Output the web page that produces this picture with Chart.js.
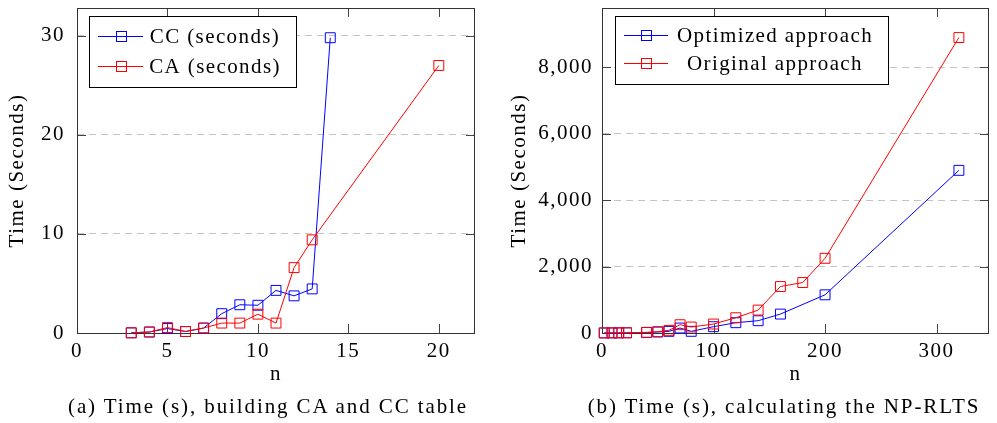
<!DOCTYPE html>
<html><head><meta charset="utf-8">
<script src="https://cdn.jsdelivr.net/npm/chart.js@4"></script>
<style>
body{margin:0;background:#fff;width:997px;height:423px;overflow:hidden;position:relative;font-family:"Liberation Serif",serif;}
canvas{position:absolute;top:0}
.cap{position:absolute;top:394px;line-height:24px;font-size:21px;text-align:center;letter-spacing:1.9px;white-space:nowrap;color:#000}
</style></head><body>
<canvas id="c1" width="497" height="423" style="left:0;width:497px;height:423px"></canvas>
<canvas id="c2" width="497" height="423" style="left:500px;width:497px;height:423px"></canvas>
<div class="cap" style="left:0;width:536px">(a) Time (s), building CA and CC table</div>
<div class="cap" style="left:569px;width:430px">(b) Time (s), calculating the NP-RLTS</div>
<script>
// ---- Left chart data ----
const ccN = [3, 4, 5, 6, 7, 8, 9, 10, 11, 12, 13, 14];
const ccSeconds = [0.02, 0.1, 0.45, 0.15, 0.5, 1.95, 2.85, 2.8, 4.3, 3.75, 4.45, 29.8];
const caN = [3, 4, 5, 6, 7, 8, 9, 10, 11, 12, 13, 20];
const caSeconds = [0.02, 0.1, 0.55, 0.15, 0.5, 1.0, 1.0, 1.9, 1.0, 6.6, 9.4, 27.0];
const leftXTicks = [0, 5, 10, 15, 20];
const leftYTicks = [0, 10, 20, 30];
const leftLabels = ['CC (seconds)', 'CA (seconds)'];

// ---- Right chart data ----
const optN = [2, 9, 15, 22, 40, 50, 60, 70, 80, 100, 120, 140, 160, 200, 320];
const optSeconds = [2, 3, 4, 6, 15, 30, 50, 150, 50, 190, 310, 370, 570, 1150, 4900];
const origN = [2, 9, 15, 22, 40, 50, 60, 70, 80, 100, 120, 140, 160, 180, 200, 320];
const origSeconds = [3, 5, 6, 8, 20, 40, 80, 250, 180, 270, 460, 690, 1400, 1520, 2250, 8900];
const rightXTicks = [0, 100, 200, 300];
const rightYTicks = [0, 2000, 4000, 6000, 8000];
const rightLabels = ['Optimized approach', 'Original approach'];

const FONT = '"Liberation Serif", "Times New Roman", serif';
const BLUE = '#0000ff', RED = '#ff0000';

function pts(xs, ys) { return xs.map((x, i) => ({x: x, y: ys[i]})); }

const framePlugin = {
  id: 'frame',
  beforeDraw(chart) {
    chart.ctx.letterSpacing = '1.5px';
  },
  beforeDatasetsDraw(chart) {
    const {ctx, chartArea: a, scales: {x, y}} = chart;
    ctx.save();
    ctx.strokeStyle = '#444';
    ctx.lineWidth = 1;
    ctx.beginPath();
    x.ticks.forEach(t => {
      const px = Math.round(x.getPixelForValue(t.value)) + 0.5;
      ctx.moveTo(px, a.bottom); ctx.lineTo(px, a.bottom - 9);
      ctx.moveTo(px, a.top); ctx.lineTo(px, a.top + 9);
    });
    y.ticks.forEach(t => {
      const py = Math.round(y.getPixelForValue(t.value)) + 0.5;
      ctx.moveTo(a.left, py); ctx.lineTo(a.left + 9, py);
      ctx.moveTo(a.right, py); ctx.lineTo(a.right - 9, py);
    });
    ctx.stroke();
    ctx.strokeStyle = '#333';
    ctx.strokeRect(Math.round(a.left) + 0.5, Math.round(a.top) + 0.5,
                   Math.round(a.right - a.left) - 1, Math.round(a.bottom - a.top));
    ctx.restore();
  },
  afterDraw(chart, args, o) {
    const L = o.legend;
    if (!L) return;
    const ctx = chart.ctx;
    ctx.save();
    ctx.fillStyle = '#fff';
    ctx.fillRect(L.x, L.y, L.w, L.h);
    ctx.strokeStyle = '#000';
    ctx.lineWidth = 1;
    ctx.strokeRect(L.x + 0.5, L.y + 0.5, L.w, L.h);
    ctx.font = '21px ' + FONT;
    ctx.letterSpacing = '1.4px';
    ctx.textBaseline = 'middle';
    ctx.textAlign = 'center';
    L.rows.forEach((ry, i) => {
      const ds = chart.data.datasets[i];
      ctx.strokeStyle = ds.borderColor;
      ctx.beginPath();
      ctx.moveTo(L.lx1, ry + 0.5); ctx.lineTo(L.lx2, ry + 0.5);
      ctx.stroke();
      const mx = Math.round((L.lx1 + L.lx2) / 2);
      ctx.strokeRect(mx - 5 + 0.5, ry - 5 + 0.5, 10, 10);
      ctx.fillStyle = '#000';
      ctx.fillText(ds.label, L.cx, ry + 1);
    });
    ctx.restore();
  }
};

function zeroPad(s) { s.paddingTop = 0; s.paddingBottom = 0; s.paddingLeft = 0; s.paddingRight = 0; }

function makeChart(id, cfg) {
  const tickFont = {family: FONT, size: 21};
  return new Chart(document.getElementById(id), {
    type: 'line',
    data: {
      datasets: [
        {label: cfg.labels[0], data: cfg.d0, borderColor: BLUE, order: 1},
        {label: cfg.labels[1], data: cfg.d1, borderColor: RED, order: 0}
      ].map(d => Object.assign(d, {
        borderWidth: 1, tension: 0, fill: false, clip: false,
        pointStyle: 'rect', pointRadius: 7, pointHoverRadius: 7,
        pointBorderWidth: 1, pointBackgroundColor: 'rgba(0,0,0,0)',
        pointBorderColor: d.borderColor
      }))
    },
    options: {
      responsive: false, animation: false, devicePixelRatio: 1,
      layout: {padding: {top: 5, right: cfg.padRight, left: 0, bottom: 0}},
      plugins: {legend: {display: false}, tooltip: {enabled: false}, frame: {legend: cfg.legend}},
      scales: {
        x: {
          type: 'linear', min: cfg.xMin, max: cfg.xMax,
          afterBuildTicks: s => { s.ticks = cfg.xTicks.map(v => ({value: v})); },
          afterFit: s => { s.height = 90; zeroPad(s); },
          grid: {display: false, drawTicks: false},
          border: {display: false},
          ticks: {font: tickFont, color: '#000', padding: 6, maxRotation: 0, includeBounds: false,
                  callback: v => v.toLocaleString('en-US')},
          title: {display: true, text: 'n', font: tickFont, color: '#000', padding: {top: 0, bottom: 36}}
        },
        y: {
          type: 'linear', min: cfg.yMin, max: cfg.yMax,
          afterBuildTicks: s => { s.ticks = cfg.yTicks.map(v => ({value: v})); },
          afterFit: s => { s.width = cfg.yWidth; zeroPad(s); },
          grid: {color: '#c4c4c4', drawTicks: false, lineWidth: 1},
          border: {display: false, dash: [7, 5]},
          ticks: {font: tickFont, color: '#000', padding: cfg.yPad, includeBounds: false,
                  callback: v => v.toLocaleString('en-US')},
          title: {display: true, text: 'Time (Seconds)', font: tickFont, color: '#000', padding: {top: cfg.yTitlePad, bottom: 0}}
        }
      }
    },
    plugins: [framePlugin]
  });
}

makeChart('c1', {
  labels: leftLabels, d0: pts(ccN, ccSeconds), d1: pts(caN, caSeconds),
  xMin: 0, xMax: 22, yMin: 0, yMax: 32.8,
  xTicks: leftXTicks, yTicks: leftYTicks,
  yWidth: 77, padRight: 22, yPad: 12, yTitlePad: 5,
  legend: {x: 89, y: 16, w: 207, h: 71, rows: [36, 66], lx1: 98, lx2: 143, cx: 215}
});

makeChart('c2', {
  labels: rightLabels, d0: pts(optN, optSeconds), d1: pts(origN, origSeconds),
  xMin: 0, xMax: 347, yMin: 0, yMax: 9790,
  xTicks: rightXTicks, yTicks: rightYTicks,
  yWidth: 102, padRight: 0, yPad: 9, yTitlePad: 7,
  legend: {x: 115, y: 16, w: 273, h: 68, rows: [35, 63], lx1: 124, lx2: 168, cx: 275}
});
</script>
</body></html>
